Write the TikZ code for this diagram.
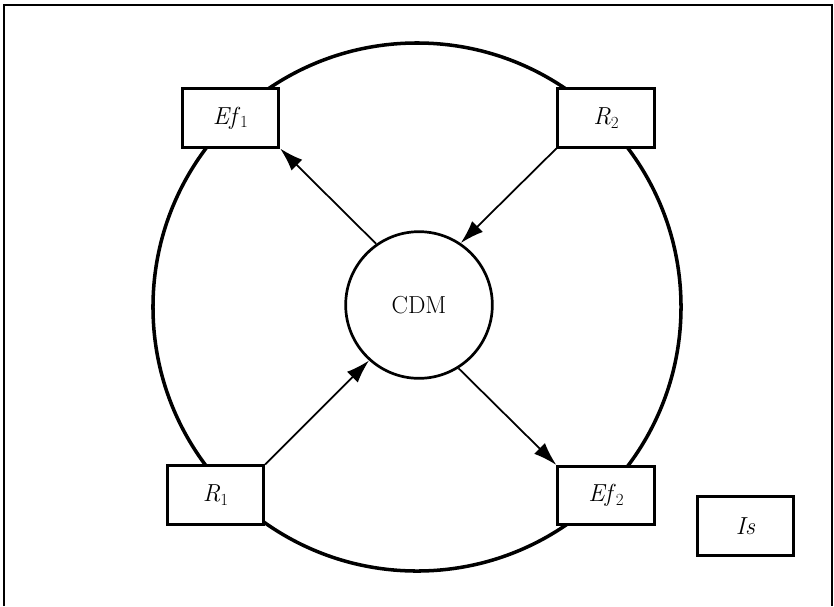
\documentclass[tikz,border=0pt]{standalone}
\usepackage{fontspec}
\setmainfont{Latin Modern Roman}
\usetikzlibrary{arrows.meta}
\newcommand{\lbl}[2]{\textit{#1}\raisebox{-0.32ex}{\fontsize{14.5}{15}\selectfont #2}}
\begin{document}
\begin{tikzpicture}[x=0.03cm,y=-0.03cm,
  boxnode/.style={draw,line width=2.3pt,fill=white,minimum width=2.9cm,minimum height=1.75cm,inner sep=0pt,font=\fontsize{21}{25}\selectfont},
  hub/.style={draw,circle,line width=2.3pt,fill=white,minimum size=4.4cm,inner sep=0pt,font=\fontsize{21}{25}\selectfont},
  arr/.style={line width=1.5pt,-{Latex[length=20pt,width=13pt]}},
  ring/.style={line width=3pt},
  frame/.style={line width=2.4pt}]
\useasboundingbox (0,0) rectangle (834,606);
\draw[frame] (4,606) -- (4,5) -- (832,5) -- (832,606);
\coordinate (c) at (417,307);
\draw[ring] (c) circle[radius=7.92cm];
\node[hub] (cdm) at (419,305) {CDM};
\node[boxnode] (ef1) at (230.5,118) {\lbl{Ef}{1}};
\node[boxnode] (r2) at (606,118) {\lbl{R}{2}};
\node[boxnode] (r1) at (215.5,495) {\lbl{R}{1}};
\node[boxnode] (ef2) at (606,495.5) {\lbl{Ef}{2}};
\node[boxnode] (is) at (745.5,526) {\textit{Is}};
\draw[arr] (cdm.125) -- (ef1.south east);
\draw[arr] (r2.south west) -- (cdm.56);
\draw[arr] (r1.north east) -- (cdm.228);
\draw[arr] (cdm.-58) -- (ef2.north west);
\end{tikzpicture}
\end{document}
